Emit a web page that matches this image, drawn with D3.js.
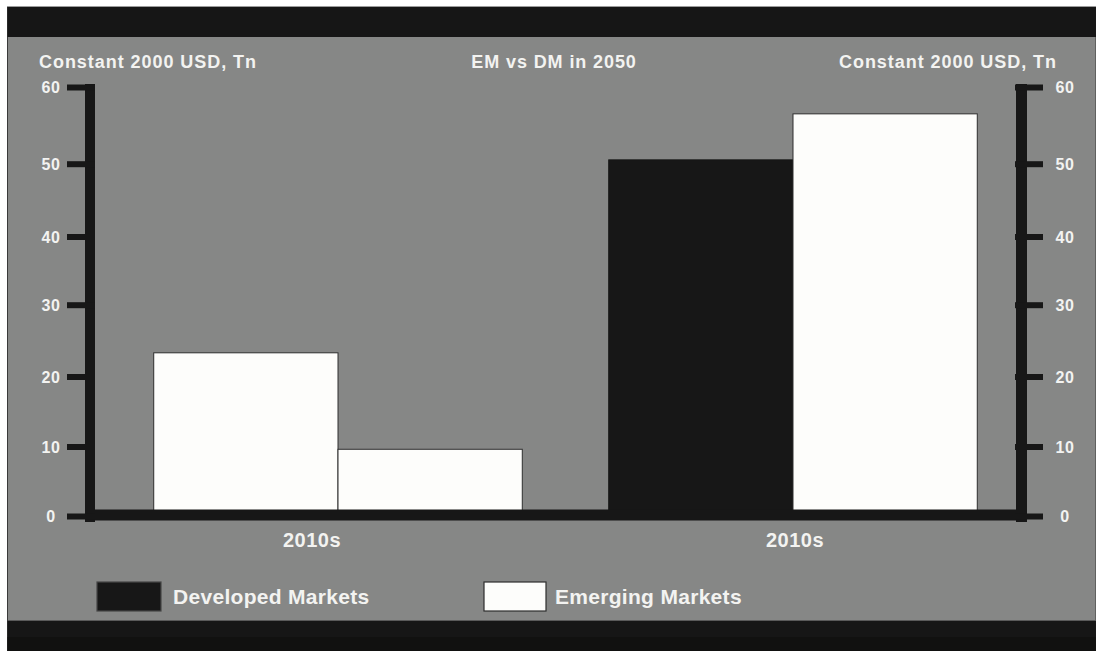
<!DOCTYPE html>
<html>
<head>
<meta charset="utf-8">
<script src="https://cdn.jsdelivr.net/npm/d3@7"></script>
<style>
  html, body { margin: 0; padding: 0; background: #ffffff; }
  svg { display: block; }
  text { font-family: "Liberation Sans", Arial, sans-serif; font-weight: bold; fill: #f3f3f1; }
</style>
</head>
<body>
<svg id="chart" width="1096" height="651"></svg>
<script>
// Values in constant 2000 USD, trillions
const categories = ["2010s", "2010s"];
const seriesNames = ["Developed Markets", "Emerging Markets"];
const developed = [23.3, 50.5];
const emerging = [9.6, 56.5];
const yTicks = [0, 10, 20, 30, 40, 50, 60];
const chartTitle = "EM vs DM in 2050";
const axisTitle = "Constant 2000 USD, Tn";

const W = 1096, H = 651;
const DARK = "#171717", GREY = "#868786", LIGHT = "#fdfdfb";

const svg = d3.select("#chart");

// panel: white margin, dark header and footer strips, grey body
svg.append("rect").attr("x", 0).attr("y", 0).attr("width", W).attr("height", H).attr("fill", "#ffffff");
svg.append("rect").attr("x", 7.5).attr("y", 7).attr("width", W - 7.5).attr("height", H - 7)
  .attr("fill", GREY).attr("stroke", "#3a3a3a").attr("stroke-width", 1);
svg.append("rect").attr("x", 7.5).attr("y", 7).attr("width", W - 7.5).attr("height", 30).attr("fill", "#161616");
svg.append("rect").attr("x", 7.5).attr("y", 621).attr("width", W - 7.5).attr("height", 30).attr("fill", "#161616");
svg.append("rect").attr("x", 7.5).attr("y", 637).attr("width", W - 7.5).attr("height", 14).attr("fill", "#111110");
svg.append("line").attr("x1", 8).attr("x2", W).attr("y1", 620.5).attr("y2", 620.5).attr("stroke", "#5a5a5a");

// value scale (tick spacing follows the printed axis)
const y = d3.scaleLinear()
  .domain(yTicks)
  .range([516, 446.5, 376.5, 304.7, 236.5, 163.7, 87]);

// group and bar scales
const idx = categories.map((d, i) => i);
const x0 = d3.scaleBand().domain(idx).range([110.5, 1020.5]).paddingInner(0.19).paddingOuter(0.095);
const x1 = d3.scaleBand().domain([0, 1]).range([0, x0.bandwidth()]);
const labelX = d3.scalePoint().domain(idx).range([312, 795]);

const rows = idx.map(i => ({ i, values: [developed[i], emerging[i]] }));

// first-period bars are both drawn with the light fill
const fillFor = (s, i) => (s === 0 && i > 0) ? DARK : LIGHT;

const groups = svg.append("g").selectAll("g").data(rows).join("g")
  .attr("transform", d => `translate(${x0(d.i)},0)`);

groups.selectAll("rect").data(d => d.values.map((v, s) => ({ v, s, i: d.i }))).join("rect")
  .attr("x", d => x1(d.s))
  .attr("width", x1.bandwidth())
  .attr("y", d => y(d.v))
  .attr("height", d => y(0) - y(d.v))
  .attr("fill", d => fillFor(d.s, d.i))
  .attr("stroke", d => fillFor(d.s, d.i) === LIGHT ? "#2e2e2e" : DARK)
  .attr("stroke-width", 1);

// heavy baseline
svg.append("rect")
  .attr("x", 85).attr("width", 1027 - 85)
  .attr("y", y(0) - 6.5).attr("height", 11)
  .attr("fill", DARK);

// heavy axis spines
svg.append("rect").attr("x", 85).attr("width", 10)
  .attr("y", y(60) - 3).attr("height", y(0) + 6 - (y(60) - 3)).attr("fill", DARK);
svg.append("rect").attr("x", 1016).attr("width", 11)
  .attr("y", y(60) - 3).attr("height", y(0) + 6 - (y(60) - 3)).attr("fill", DARK);

// left axis
const leftAxis = svg.append("g").attr("transform", "translate(95,0)")
  .call(d3.axisLeft(y).tickValues(yTicks).tickSize(28).tickFormat(d3.format("d")));
leftAxis.select(".domain").remove();
leftAxis.selectAll(".tick line").attr("stroke", DARK).attr("stroke-width", 6);
leftAxis.selectAll(".tick text")
  .attr("x", -44).attr("text-anchor", "middle").attr("dy", "0.36em")
  .style("font-size", "16px").style("letter-spacing", "0.5px").attr("fill", "#f3f3f1");
leftAxis.attr("font-family", null).attr("font-size", null);

// right axis
const rightAxis = svg.append("g").attr("transform", "translate(1015,0)")
  .call(d3.axisRight(y).tickValues(yTicks).tickSize(28).tickFormat(d3.format("d")));
rightAxis.select(".domain").remove();
rightAxis.selectAll(".tick line").attr("stroke", DARK).attr("stroke-width", 6);
rightAxis.selectAll(".tick text")
  .attr("x", 50).attr("text-anchor", "middle").attr("dy", "0.36em")
  .style("font-size", "16px").style("letter-spacing", "0.5px").attr("fill", "#f3f3f1");
rightAxis.attr("font-family", null).attr("font-size", null);

// titles
svg.append("text").attr("x", 39).attr("y", 68)
  .style("font-size", "18px").style("letter-spacing", "0.95px").text(axisTitle);
svg.append("text").attr("x", 1057).attr("y", 68).attr("text-anchor", "end")
  .style("font-size", "18px").style("letter-spacing", "0.95px").text(axisTitle);
svg.append("text").attr("x", 554).attr("y", 68).attr("text-anchor", "middle")
  .style("font-size", "18px").style("letter-spacing", "0.9px").text(chartTitle);

// category labels
svg.append("g").selectAll("text").data(idx).join("text")
  .attr("x", i => labelX(i)).attr("y", 547).attr("text-anchor", "middle")
  .style("font-size", "20px").style("letter-spacing", "0.5px")
  .text(i => categories[i]);

// legend
const legendItems = [
  { name: seriesNames[0], fill: DARK, stroke: "#474747", x: 97, w: 64, tx: 173 },
  { name: seriesNames[1], fill: LIGHT, stroke: "#2e2e2e", x: 484, w: 62, tx: 555 }
];
const lg = svg.append("g").selectAll("g").data(legendItems).join("g");
lg.append("rect")
  .attr("x", d => d.x).attr("y", 582).attr("width", d => d.w).attr("height", 29)
  .attr("fill", d => d.fill).attr("stroke", d => d.stroke).attr("stroke-width", 1.2);
lg.append("text")
  .attr("x", d => d.tx).attr("y", 603.5)
  .style("font-size", "21px").style("letter-spacing", "0.3px")
  .text(d => d.name);
</script>
</body>
</html>
